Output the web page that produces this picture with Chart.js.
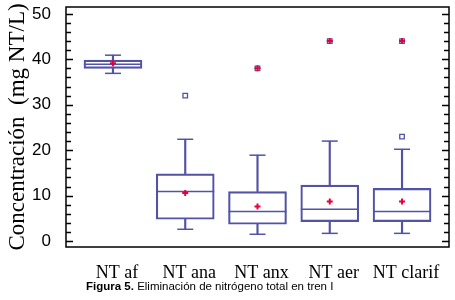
<!DOCTYPE html>
<html>
<head>
<meta charset="utf-8">
<script src="https://cdn.jsdelivr.net/npm/chart.js@4/dist/chart.umd.min.js"></script>
<style>
  body { margin: 0; background: #fff; }
  #wrap { position: relative; width: 455px; height: 300px; }
  #caption {
    position: absolute; left: 86px; top: 280px;
    font: 11.5px "Liberation Sans", Arial, sans-serif;
    white-space: nowrap; color: #000;
  }
</style>
</head>
<body>
<div id="wrap">
  <canvas id="chart_nitrogeno"></canvas>
  <div id="caption"><b>Figura 5.</b> Eliminación de nitrógeno total en tren I</div>
</div>
<script>
// box plot values (mg NT/L)
var categories = ['NT af', 'NT ana', 'NT anx', 'NT aer', 'NT clarif'];
var whiskerLow = [36.9, 2.6, 1.5, 1.7, 1.7];
var quartile1 = [38.0, 4.8, 3.7, 4.3, 4.3];
var medians = [38.9, 10.9, 6.5, 7.0, 6.5];
var quartile3 = [39.8, 14.8, 10.9, 12.3, 11.6];
var whiskerHigh = [40.9, 22.4, 18.9, 22.0, 20.2];
var means = [39.1, 10.6, 7.6, 8.7, 8.7];
var outlierCat = [1, 2, 3, 4, 4];
var outlierValues = [32.0, 38.0, 44.0, 23.0, 44.0];
var farOutlierCat = [2, 3, 4];
var farOutlierValues = [38.0, 44.0, 44.0];
var yTickLabels = [0, 10, 20, 30, 40, 50];

var BLUE = '#5252a6';
var RED = '#e6003a';

function pts(xs, ys) {
    return xs.map(function (x, i) { return { x: x, y: ys[i] }; });
}
var catIdx = categories.map(function (c, i) { return i; });

function range(a, b) {
    return catIdx.map(function (i) { return { x: i, y: [a[i], b[i]] }; });
}

var chart_nitrogeno = new Chart(document.getElementById('chart_nitrogeno'), {
    type: 'bar',
    data: {
        datasets: [
            {
                type: 'scatter', label: 'media',
                data: pts(catIdx, means),
                pointStyle: 'cross', radius: 3, borderWidth: 2,
                borderColor: RED, backgroundColor: RED
            },
            {
                type: 'scatter', label: 'atípicos lejanos',
                data: pts(farOutlierCat, farOutlierValues),
                pointStyle: 'cross', radius: 3, borderWidth: 2,
                borderColor: RED, backgroundColor: RED
            },
            {
                type: 'scatter', label: 'atípicos',
                data: pts(outlierCat, outlierValues),
                pointStyle: 'rect', radius: 3.2, borderWidth: 1.3,
                borderColor: BLUE, backgroundColor: '#fff'
            },
            {
                type: 'scatter', label: 'mediana',
                data: pts(catIdx, medians),
                pointStyle: 'line', radius: 29, borderWidth: 1.5,
                borderColor: BLUE
            },
            {
                type: 'scatter', label: 'bigotes',
                data: pts(catIdx, whiskerHigh).concat(pts(catIdx, whiskerLow)),
                pointStyle: 'line', radius: 8, borderWidth: 1.5,
                borderColor: BLUE
            },
            {
                label: 'caja',
                data: range(quartile1, quartile3),
                grouped: false, barThickness: 58,
                borderSkipped: false, borderWidth: 1.5,
                borderColor: BLUE, backgroundColor: 'rgba(0,0,0,0)'
            },
            {
                label: 'bigote sup',
                data: range(quartile3, whiskerHigh),
                grouped: false, barThickness: 1.5,
                borderWidth: 0, backgroundColor: BLUE
            },
            {
                label: 'bigote inf',
                data: range(whiskerLow, quartile1),
                grouped: false, barThickness: 1.5,
                borderWidth: 0, backgroundColor: BLUE
            }
        ]
    },
    options: {
        animation: false,
        responsive: true,
        maintainAspectRatio: false,
        layout: { autoPadding: false, padding: { left: 0, right: 6, top: 7, bottom: 16 } },
        plugins: {
            legend: { display: false },
            tooltip: { enabled: false },
            title: { display: false }
        },
        scales: {
            x: {
                type: 'linear',
                min: -0.65,
                max: 4.65,
                offset: false,
                grid: { display: false, offset: false },
                border: { display: false },
                afterBuildTicks: function (s) {
                    s.ticks = catIdx.map(function (i) { return { value: i }; });
                },
                afterFit: function (s) {
                    s.height = 37;
                    s.paddingLeft = 0; s.paddingRight = 0;
                },
                ticks: {
                    autoSkip: false,
                    maxRotation: 0,
                    padding: 7,
                    labelOffset: 4,
                    color: '#000',
                    font: { family: '"Liberation Serif", serif', size: 18 },
                    callback: function (v, i) { return categories[i]; }
                }
            },
            y: {
                type: 'linear',
                min: -1.3,
                max: 51.5,
                grid: { display: false },
                border: { display: false },
                afterFit: function (s) {
                    s.width = 66;
                    s.paddingTop = 0; s.paddingBottom = 0;
                },
                title: {
                    display: true,
                    text: 'Concentración  (mg NT/L)',
                    color: '#000',
                    padding: { top: 4, bottom: 4 },
                    font: { family: '"Liberation Serif", serif', size: 23 }
                },
                ticks: {
                    stepSize: 2,
                    includeBounds: false,
                    autoSkip: false,
                    padding: 7,
                    color: '#000',
                    font: { family: '"Liberation Sans", Arial, sans-serif', size: 17 },
                    callback: function (v) { return yTickLabels.indexOf(v) >= 0 ? v : ''; }
                }
            }
        }
    },
    plugins: [{
        id: 'frameAndTicks',
        afterDraw: function (chart) {
            var ctx = chart.ctx, a = chart.chartArea, y = chart.scales.y;
            ctx.save();
            ctx.strokeStyle = '#000';
            ctx.lineWidth = 1.5;
            ctx.strokeRect(a.left, a.top, a.right - a.left, a.bottom - a.top);
            y.ticks.forEach(function (t) {
                var py = Math.round(y.getPixelForValue(t.value)) + 0.5;
                var len = yTickLabels.indexOf(t.value) >= 0 ? 7 : 5;
                ctx.beginPath();
                ctx.moveTo(a.left, py); ctx.lineTo(a.left + len, py);
                ctx.moveTo(a.right, py); ctx.lineTo(a.right - len, py);
                ctx.stroke();
            });
            ctx.restore();
        }
    }, {
        id: 'whiteBackground',
        beforeDraw: function (chart) {
            var ctx = chart.ctx;
            ctx.save();
            ctx.globalCompositeOperation = 'destination-over';
            ctx.fillStyle = 'white';
            ctx.fillRect(0, 0, chart.width, chart.height);
            ctx.restore();
        }
    }]
});
</script>
</body>
</html>
